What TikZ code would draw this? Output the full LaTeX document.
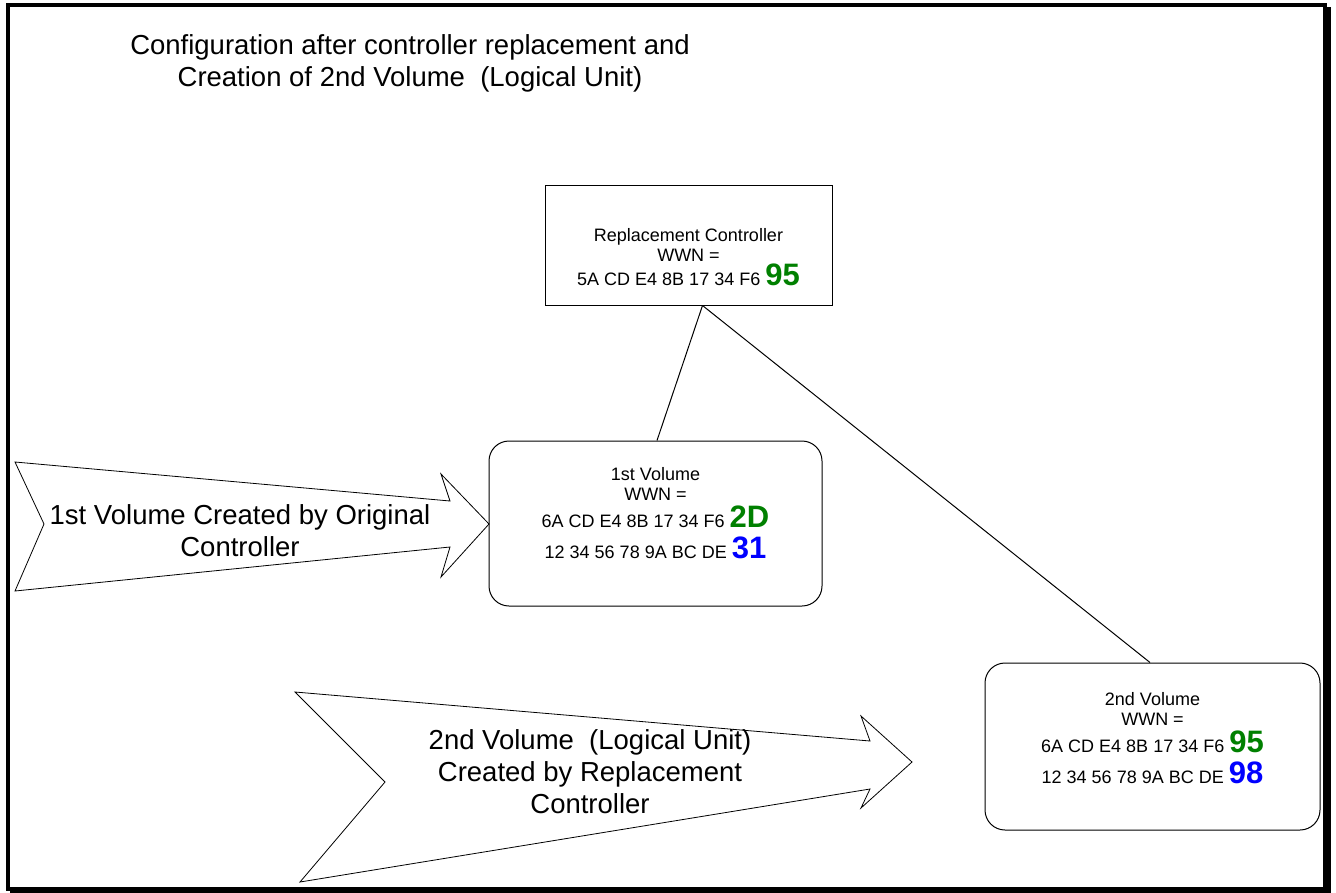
\documentclass[tikz,border=0pt]{standalone}
\usepackage{fontspec}
\setmainfont{Liberation Sans}
\definecolor{wwngreen}{RGB}{0,128,0}
\definecolor{wwnblue}{RGB}{0,0,255}
\newcommand{\wwnbyte}[2]{{\fontsize{31}{31}\selectfont\bfseries\color{#1}#2}}
\begin{document}
\begin{tikzpicture}[x=1pt,y=-1pt,line width=1pt,
  ctrlbox/.style={draw,inner sep=0pt},
  volbox/.style={ctrlbox,rounded corners=20pt},
  boxtext/.style={align=center,inner sep=0pt,font=\fontsize{18}{20}\selectfont},
  bigtext/.style={align=center,font=\fontsize{27.5}{32}\selectfont}]

% outline
\useasboundingbox (0,0) rectangle (1336,892);
\fill (10,7) rectangle (1331,893);
\draw[fill=white,line width=4pt] (8,5) rectangle (1325,889);

% title
\node[bigtext] (title) at (410,63) {Configuration after controller replacement and\\Creation of 2nd Volume\ \ (Logical Unit)};

% controller and volumes
\node[ctrlbox,minimum width=287pt,minimum height=120pt] (ctrl) at (688.5,245) {};
\node[boxtext] (ctrltext) at (688.5,257)
  {Replacement Controller\\WWN =\\[2pt]5A CD E4 8B 17 34 F6 \wwnbyte{wwngreen}{95}};
\node[volbox,minimum width=333pt,minimum height=165pt] (vol1) at (655.5,523.5) {};
\node[boxtext] (vol1text) at (655.5,513)
  {1st Volume\\WWN =\\[5pt]6A CD E4 8B 17 34 F6 \wwnbyte{wwngreen}{2D}\\[8pt]12 34 56 78 9A BC DE \wwnbyte{wwnblue}{31}};
\node[volbox,minimum width=335pt,minimum height=167pt] (vol2) at (1152.5,746.5) {};
\node[boxtext] (vol2text) at (1152.5,738)
  {2nd Volume\\WWN =\\[5pt]6A CD E4 8B 17 34 F6 \wwnbyte{wwngreen}{95}\\[8pt]12 34 56 78 9A BC DE \wwnbyte{wwnblue}{98}};
\draw ([xshift=14pt]ctrl.south) -- ([xshift=1.5pt]vol1.north);
\draw ([xshift=14pt]ctrl.south) -- ([xshift=-2.5pt]vol2.north);

% big arrows
\draw[line width=0.8pt] (15,462) -- (450,501) -- (441,474) -- (489,524) -- (441,577) -- (450,547)
      -- (15,591) -- (44,524) -- cycle;
\node[bigtext] (orig) at (240,531) {1st Volume Created by Original\\Controller};
\draw[line width=0.8pt] (295,692) -- (870,741) -- (861,716) -- (912,762) -- (861,808) -- (870,789)
      -- (300,882) -- (385,782) -- cycle;
\node[bigtext] (repl) at (590,772) {2nd Volume\ \ (Logical Unit)\\Created by Replacement\\Controller};

\end{tikzpicture}
\end{document}
